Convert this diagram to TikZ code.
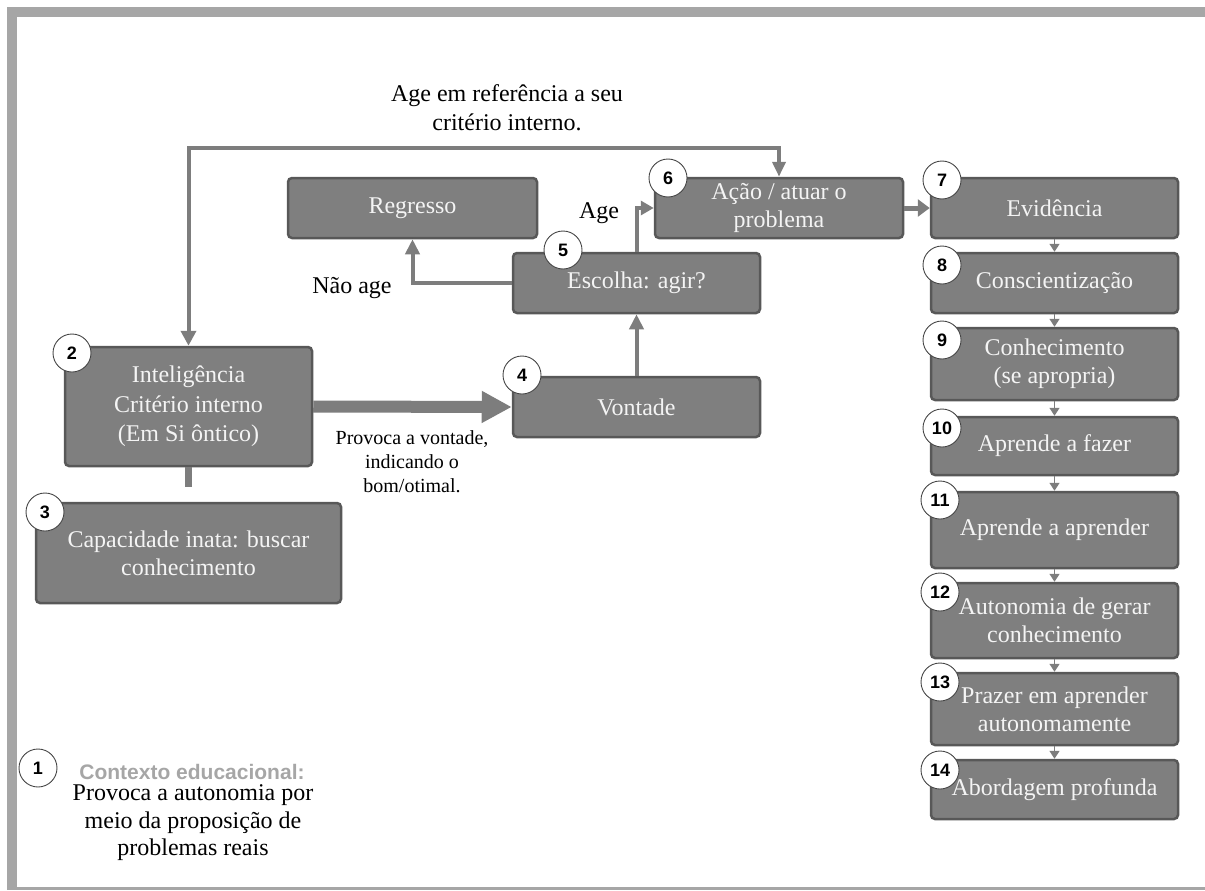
\documentclass[tikz,border=0pt]{standalone}
\usepackage{fontspec}
\setmainfont{Liberation Serif}
\newfontfamily\numsans{Liberation Sans}
\usepackage{xcolor}
\usetikzlibrary{arrows.meta}
\definecolor{boxfill}{RGB}{127,127,127}
\definecolor{boxline}{RGB}{88,88,88}
\definecolor{boxtext}{RGB}{244,244,244}
\definecolor{arrowgray}{RGB}{125,125,125}
\definecolor{framegray}{RGB}{166,166,166}
\definecolor{circline}{RGB}{70,70,70}
\tikzset{>=stealth}
\tikzset{
  stepbox/.style={draw=boxline, line width=2.5pt, fill=boxfill, rounded corners=4pt,
    text=boxtext, align=center, inner sep=0pt, minimum width=247pt, minimum height=60pt,
    font=\fontsize{24}{28}\selectfont},
  numcirc/.style={circle, draw=circline, line width=0.9pt, fill=white, inner sep=0pt,
    minimum size=38pt, font=\numsans\bfseries\fontsize{18}{18}\selectfont},
  link/.style={draw=arrowgray, line width=4pt},
  minilink/.style={draw=arrowgray, line width=1.6pt, -{Triangle[length=8pt,width=10pt]}},
  note/.style={align=center, font=\fontsize{24}{29}\selectfont},
}

\begin{document}
\begin{tikzpicture}[x=1pt, y=-1pt]
        \useasboundingbox (0,0) rectangle (1205,891);
        % Frame
        \fill[framegray] (7,7) rectangle (1205,17);
        \fill[framegray] (7,7) rectangle (17,890);
        \fill[framegray] (7,886.5) rectangle (1205,889.5);

        % Boxes, left and middle
        \node[stepbox, minimum width=249pt] (regresso) at (412.5,208) {Regresso};
        \node[stepbox] (escolha) at (636.5,283) {Escolha: agir?};
        \node[stepbox, minimum width=248pt] (acao) at (779,208) {Ação / atuar o\\problema};
        \node[stepbox] (vontade) at (636.5,407) {Vontade};
        \node[stepbox, minimum height=119pt, font=\fontsize{24}{29.5}\selectfont] (intel) at (188.5,406.5) {Inteligência\\Critério interno\\(Em Si ôntico)};
        \node[stepbox, minimum width=305pt, minimum height=100pt] (capac) at (188.5,553) {Capacidade inata: buscar\\conhecimento};

        % Boxes, right column
        \node[stepbox] (evid) at (1054.5,208) {Evidência};
        \node[stepbox] (consc) at (1054.5,283) {Conscientização};
        \node[stepbox, minimum height=72pt] (conhec) at (1054.5,364) {Conhecimento\\(se apropria)};
        \node[stepbox, minimum height=58pt] (fazer) at (1054.5,446) {Aprende a fazer};
        \node[stepbox, minimum height=76pt] (aprender) at (1054.5,530) {Aprende a aprender};
        \node[stepbox, minimum height=75pt] (gerar) at (1054.5,620.5) {Autonomia de gerar\\conhecimento};
        \node[stepbox, minimum height=72pt] (prazer) at (1054.5,709) {Prazer em aprender\\autonomamente};
        \node[stepbox, minimum height=59pt] (abord) at (1054.5,789.5) {Abordagem profunda};

        % Texts
        \node[note] (critlbl) at (507,108) {Age em referência a seu\\critério interno.};
        \node[note] (agelbl) at (599,213) {Age};
        \node[note] (naolbl) at (352,288) {Não age};
        \node[align=center, font=\fontsize{20}{24}\selectfont] (provlbl) at (412,462) {Provoca a vontade,\\indicando o\\bom/otimal.};
        \node[font=\numsans\bfseries\fontsize{21}{24}\selectfont, text=framegray] (ctxlbl) at (192,772) {Contexto educacional:};
        \node[note, font=\fontsize{24}{27.5}\selectfont] (ctxtext) at (193,823) {Provoca a autonomia por\\meio da proposição de\\problemas reais};

        % Connectors
        \coordinate (critbend) at (480,148);
        \draw[link, {Triangle[length=15pt,width=15pt]}-{Triangle[length=15pt,width=13pt]}] (intel.north) |- (critbend) -| (acao.north);
        \draw[link, -{Triangle[length=13pt,width=14pt]}] (escolha.north) |- (acao.west);
        \draw[link, -{Triangle[length=15pt,width=14pt]}] (escolha.west) -| (regresso.south);
        \draw[link, -{Triangle[length=15pt,width=14pt]}] (vontade.north) -- (escolha.south);
        \draw[draw=arrowgray, line width=12pt, -{Triangle[length=30pt,width=30pt]}] (intel.east) -- (vontade.west);
        \draw[draw=arrowgray, line width=5pt, -{Triangle[length=12pt,width=17pt]}] (acao.east) -- (evid.west);
        \coordinate (capstub) at (188.5,487);
        \draw[draw=arrowgray, line width=7pt] (intel.south) -- (capstub);
        \foreach \a/\b in {evid/consc, consc/conhec, conhec/fazer, fazer/aprender, aprender/gerar, gerar/prazer, prazer/abord}
          \draw[minilink] (\a.south) -- (\b.north);

        % Numbers
        \node[numcirc] (n1) at (38,768) {1};
        \node[numcirc] (n2) at (72,353) {2};
        \node[numcirc] (n3) at (45,512) {3};
        \node[numcirc] (n4) at (522,375) {4};
        \node[numcirc] (n5) at (563,250) {5};
        \node[numcirc] (n6) at (668,178) {6};
        \node[numcirc] (n7) at (942,180) {7};
        \node[numcirc] (n8) at (942,265) {8};
        \node[numcirc] (n9) at (942,340) {9};
        \node[numcirc] (n10) at (942,428) {10};
        \node[numcirc] (n11) at (940,500) {11};
        \node[numcirc] (n12) at (940,592) {12};
        \node[numcirc] (n13) at (940,682) {13};
        \node[numcirc] (n14) at (940,770) {14};
\end{tikzpicture}
\end{document}
